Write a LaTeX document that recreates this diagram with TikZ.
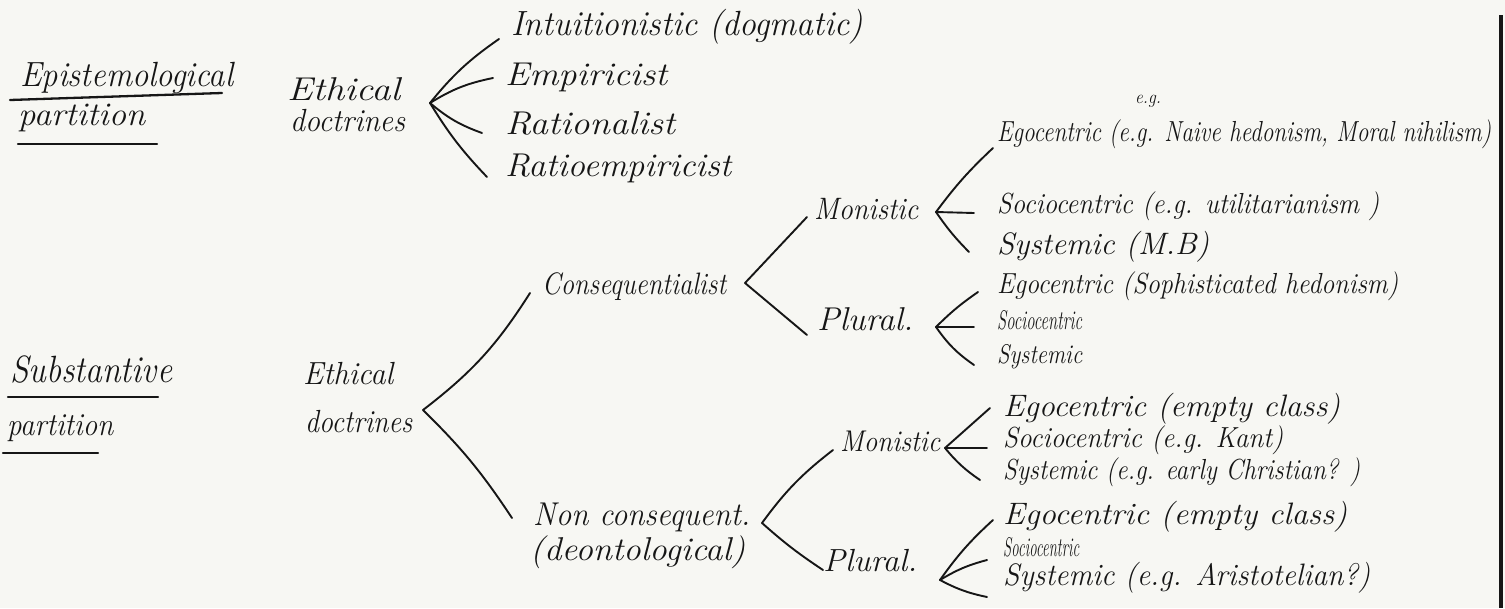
\documentclass[tikz,border=0pt]{standalone}
\usepackage{fontspec}
\usepackage{graphicx}
\definecolor{paper}{RGB}{247,247,243}
\definecolor{ink}{RGB}{22,22,22}
% handwritten-like label: font size, target width (pt), text
\newsavebox\hwbox
\newcommand{\hw}[3]{\begingroup\fontsize{#1}{#1}\selectfont\itshape
  \sbox\hwbox{#3}\pgfmathsetmacro\hwsx{#2/\wd\hwbox}%
  \scalebox{\hwsx}[1]{\usebox\hwbox}\endgroup}
\begin{document}
\begin{tikzpicture}[x=1pt,y=-1pt,
  lbl/.style={anchor=west, inner sep=2pt, text=ink},
  br/.style={draw=ink, line width=1.9pt, line cap=round},
  ul/.style={draw=ink, line width=2.3pt, line cap=round}]
\fill[paper] (0,0) rectangle (1505,608);
\useasboundingbox (0,0) rectangle (1505,608);
\draw[ink, line width=4pt] (1501,15) -- (1501,608);

% ---------- epistemological partition ----------
\node[lbl] (epA) at (18,78) {\hw{35}{213}{Epistemological}};
\node[lbl] (epB) at (16,118) {\hw{33}{127}{partition}};
\draw[ul] (10,100) -- (222,93);
\draw[ul] (18,144) -- (157,144);

\node[lbl] (ethA) at (285,89) {\hw{33}{113}{Ethical}};
\node[lbl] (docA) at (288,121) {\hw{32}{115}{doctrines}};
\coordinate (F0) at (430,103);

\node[lbl] (i1) at (509,27) {\hw{35}{352}{Intuitionistic (dogmatic)}};
\node[lbl] (i2) at (503,77) {\hw{33}{162}{Empiricist}};
\node[lbl] (i3) at (503,123) {\hw{33}{170}{Rationalist}};
\node[lbl] (i4) at (503,168) {\hw{33}{226}{Ratioempiricist}};

\draw[br] (F0) to[bend left=8] ([shift={(-10,12)}]i1.west);
\draw[br] (F0) to[bend left=10] ([shift={(-10,1)}]i2.west);
\draw[br] (F0) to[bend right=10] ([shift={(-21,10)}]i3.west);
\draw[br] (F0) to[bend right=6] ([shift={(-16,9)}]i4.west);

% ---------- substantive partition ----------
\node[lbl] (subA) at (8,370) {\hw{38}{162}{Substantive}};
\node[lbl] (subB) at (5,428) {\hw{32}{106}{partition}};
\draw[ul] (8,397) -- (158,397);
\draw[ul] (3,453) -- (98,453);

\node[lbl] (ethB) at (301,374) {\hw{32}{90}{Ethical}};
\node[lbl] (docB) at (303,422) {\hw{32}{107}{doctrines}};
\coordinate (F1) at (423,410);

\node[lbl] (cons) at (540,287) {\hw{31}{184}{Consequentialist}};
\node[lbl] (ncA) at (531,517) {\hw{33}{217}{Non consequent.}};
\node[lbl] (ncB) at (528,552) {\hw{33}{215}{(deontological)}};

\draw[br] (F1) to[bend right=10] ([shift={(-10,6)}]cons.west);
\draw[br] (F1) to[bend left=6] ([shift={(-19,1)}]ncA.west);

% Consequentialist
\coordinate (F2) at (745,283);
\node[lbl] (monA) at (812,209) {\hw{31}{104}{Monistic}};
\node[lbl] (plA) at (815,319) {\hw{33}{96}{Plural.}};
\draw[br] (F2) -- ([shift={(-5,8)}]monA.west);
\draw[br] (F2) -- ([shift={(-8,16)}]plA.west);

\coordinate (F3) at (936,212);
\node[lbl] (a1) at (995,134) {\hw{29}{494}{Egocentric (e.g. Naive hedonism, Moral nihilism)}};
\node[inner sep=1pt, text=ink] (eg) at (1148,101) {\hw{19}{26}{e.g.}};
\node[lbl] (a2) at (995,206) {\hw{29}{382}{Sociocentric (e.g. utilitarianism )}};
\node[lbl] (a3) at (995,247) {\hw{31}{212}{Systemic (M.B)}};
\draw[br] (F3) to[bend left=5] ([shift={(-2,14)}]a1.west);
\draw[br] (F3) -- ([shift={(-21,7)}]a2.west);
\draw[br] (F3) to[bend right=5] ([shift={(-26,5)}]a3.west);

\coordinate (F4) at (936,327);
\node[lbl] (b1) at (995,286) {\hw{29}{401}{Egocentric (Sophisticated hedonism)}};
\node[lbl] (b2) at (995,320) {\hw{27}{85}{Sociocentric}};
\node[lbl] (b3) at (995,357) {\hw{27}{85}{Systemic}};
\draw[br] (F4) to[bend left=5] ([shift={(-17,6)}]b1.west);
\draw[br] (F4) -- ([shift={(-21,7)}]b2.west);
\draw[br] (F4) to[bend right=10] ([shift={(-21,8)}]b3.west);

% Non consequentialist
\coordinate (F5) at (762,523);
\node[lbl] (monB) at (838,441) {\hw{30}{100}{Monistic}};
\node[lbl] (plB) at (821,561) {\hw{32}{94}{Plural.}};
\draw[br] (F5) to[bend left=8] ([shift={(-5,9)}]monB.west);
\draw[br] (F5) to[bend right=4] ([shift={(2,9)}]plB.west);

\coordinate (F6) at (945,448);
\node[lbl] (c1) at (1001,409) {\hw{31}{337}{Egocentric (empty class)}};
\node[lbl] (c2) at (1001,440) {\hw{29}{280}{Sociocentric (e.g. Kant)}};
\node[lbl] (c3) at (1001,472) {\hw{29}{357}{Systemic (e.g. early Christian? )}};
\draw[br] (F6) -- ([shift={(-11,-1)}]c1.west);
\draw[br] (F6) -- ([shift={(-14,8)}]c2.west);
\draw[br] (F6) to[bend right=8] ([shift={(-21,8)}]c3.west);

\coordinate (F7) at (940,580);
\node[lbl] (d1) at (1001,517) {\hw{31}{344}{Egocentric (empty class)}};
\node[lbl] (d2) at (1001,547) {\hw{27}{76}{Sociocentric}};
\node[lbl] (d3) at (1001,578) {\hw{31}{367}{Systemic (e.g. Aristotelian?)}};
\draw[br] (F7) to[bend left=6] ([shift={(-8,3)}]d1.west);
\draw[br] (F7) to[bend left=8] ([shift={(-14,13)}]d2.west);
\draw[br] (F7) to[bend right=8] ([shift={(-14,19)}]d3.west);
\end{tikzpicture}
\end{document}
